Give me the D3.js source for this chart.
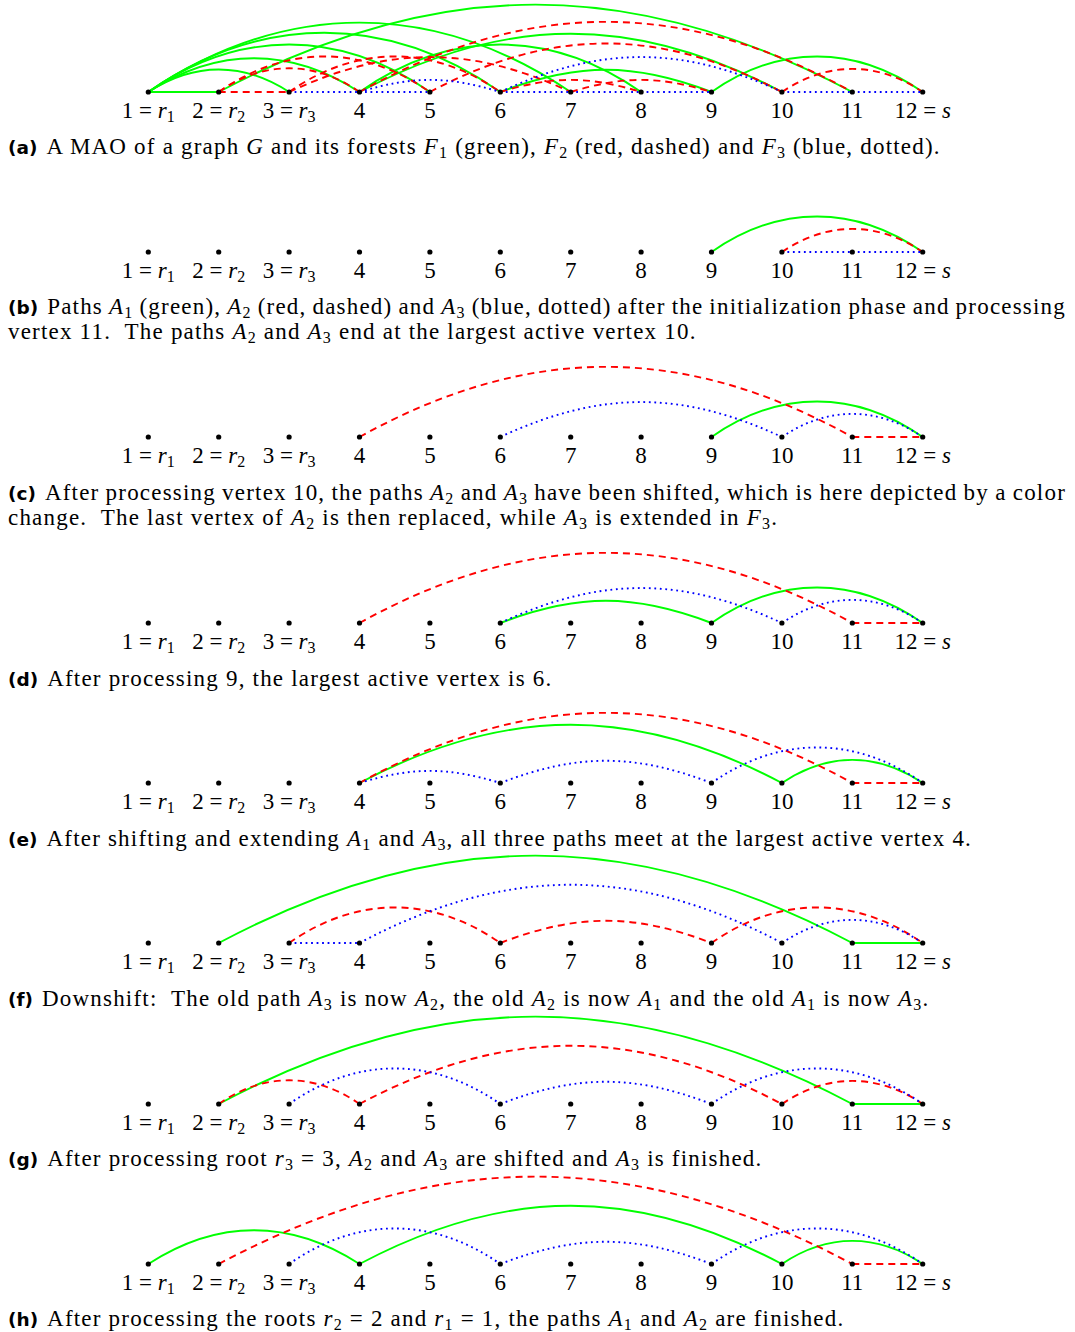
<!DOCTYPE html>
<html><head><meta charset="utf-8">
<script src="https://cdn.jsdelivr.net/npm/d3@7"></script>
<style>body{margin:0;background:#fff;}svg{display:block}text{white-space:pre}</style>
</head><body>
<script>
// ---------------- data ----------------
const vertices = [1,2,3,4,5,6,7,8,9,10,11,12];
const vertexLabels = ["1 = r_1","2 = r_2","3 = r_3","4","5","6","7","8","9","10","11","12 = s"];

// MAO forests of panel (a), edges [u, v]
const forestF1 = [[1,2],[1,3],[1,4],[1,5],[1,6],[1,7],[4,8],[6,9],[4,10],[2,11],[9,12]];
const forestF2 = [[2,3],[2,4],[2,5],[3,6],[3,7],[6,8],[7,9],[5,10],[4,11],[10,12]];
const forestF3 = [[3,4],[4,5],[4,6],[6,7],[7,8],[8,9],[6,10],[10,11],[11,12]];

// Paths [A1, A2, A3] as vertex sequences, panels (b)-(h)
const pathsB = [[9,12],[10,12],[10,11,12]];
const pathsC = [[9,12],[4,11,12],[6,10,12]];
const pathsD = [[6,9,12],[4,11,12],[6,10,12]];
const pathsE = [[4,10,12],[4,11,12],[4,6,9,12]];
const pathsF = [[2,11,12],[3,6,9,12],[3,4,10,12]];
const pathsG = [[2,11,12],[2,4,10,12],[3,6,9,12]];
const pathsH = [[1,4,10,12],[2,11,12],[3,6,9,12]];

const panelTags = ["(a)","(b)","(c)","(d)","(e)","(f)","(g)","(h)"];
const captionLines = [
  ["A MAO of a graph $G$ and its forests $F_1$ (green), $F_2$ (red, dashed) and $F_3$ (blue, dotted)."],
  ["Paths $A_1$ (green), $A_2$ (red, dashed) and $A_3$ (blue, dotted) after the initialization phase and processing",
   "vertex 11.  The paths $A_2$ and $A_3$ end at the largest active vertex 10."],
  ["After processing vertex 10, the paths $A_2$ and $A_3$ have been shifted, which is here depicted by a color",
   "change.  The last vertex of $A_2$ is then replaced, while $A_3$ is extended in $F_3$."],
  ["After processing 9, the largest active vertex is 6."],
  ["After shifting and extending $A_1$ and $A_3$, all three paths meet at the largest active vertex 4."],
  ["Downshift:  The old path $A_3$ is now $A_2$, the old $A_2$ is now $A_1$ and the old $A_1$ is now $A_3$."],
  ["After processing root $r_3 = 3$, $A_2$ and $A_3$ are shifted and $A_3$ is finished."],
  ["After processing the roots $r_2 = 2$ and $r_1 = 1$, the paths $A_1$ and $A_2$ are finished."]
];

// ---------------- layout / style ----------------
const W = 1075, H = 1332;
const baselines = [92, 252, 437, 623, 783, 943, 1104, 1264];
const captionBaselines = [[154],[314,339],[500,525],[686],[846],[1006],[1166],[1326]];
const x = d3.scaleLinear().domain([1,12]).range([148.3, 922.7]);
const serif = "'Liberation Serif', 'Times New Roman', serif";
const styles = [
  {stroke:"#00ff00", dash:null},
  {stroke:"#ff0000", dash:"7,5"},
  {stroke:"#0000ff", dash:"1.8,3.7"}
];
// TikZ-like bend angle (degrees) per arc
const arcBend = {"1-3":33,"1-4":33,"1-5":35,"1-6":35,"1-7":34,"4-8":35,"6-9":21,"4-10":28,"2-11":28,"9-12":35,
  "2-4":35,"2-5":35,"3-6":35,"3-7":25,"6-8":17,"7-9":17,"5-10":28,"4-11":29,"10-12":34,"4-6":17,"6-10":25};

const svg = d3.select("body").append("svg").attr("width",W).attr("height",H)
  .style("background","#fff");

function edgePath(u, v, y){
  const a = Math.min(u,v), b = Math.max(u,v);
  const x1 = x(a), x2 = x(b);
  const p = d3.path();
  p.moveTo(x1, y);
  if (b - a === 1) p.lineTo(x2, y);
  else {
    const L = x2 - x1, d = 0.3915 * L, t = (arcBend[a+"-"+b] || 34) * Math.PI / 180;
    p.bezierCurveTo(x1 + d*Math.cos(t), y - d*Math.sin(t), x2 - d*Math.cos(t), y - d*Math.sin(t), x2, y);
  }
  return p.toString();
}

function parseRich(str){
  const out = [];
  str.split("$").forEach((part, i) => {
    if (i % 2 === 0) { if (part) out.push({t:part}); return; }
    let j = 0;
    while (j < part.length){
      const c = part[j];
      if (c === " ") { j++; continue; }
      if (c === "=") { out.push({t:" = "}); j++; continue; }
      if (c === "_") { out.push({t:part[j+1], sub:true}); j += 2; continue; }
      if (/[A-Za-z]/.test(c)) { out.push({t:c, italic:true}); j++; continue; }
      let k = j; while (k < part.length && /[0-9]/.test(part[k])) k++;
      out.push({t:part.slice(j,k)}); j = k;
    }
  });
  return out;
}

function richText(sel, segs, subSize, subDy){
  let shifted = false;
  segs.forEach(s => {
    const ts = sel.append("tspan").text(s.t);
    if (s.italic) ts.attr("font-style","italic");
    if (s.sub) { ts.attr("font-size", subSize).attr("dy", shifted ? 0 : subDy); shifted = true; }
    else if (shifted) { ts.attr("dy", -subDy); shifted = false; }
  });
}

const panelsEdges = [
  [forestF1, forestF2, forestF3]
].concat([pathsB, pathsC, pathsD, pathsE, pathsF, pathsG, pathsH].map(paths =>
  paths.map(seq => d3.pairs(seq))
));

panelsEdges.forEach((edgeSets, i) => {
  const y = baselines[i];
  const g = svg.append("g");
  edgeSets.forEach((edges, k) => {
    g.selectAll(null).data(edges).join("path")
      .attr("d", e => edgePath(e[0], e[1], y))
      .attr("fill","none")
      .attr("stroke", styles[k].stroke)
      .attr("stroke-width", 1.9)
      .attr("stroke-dasharray", styles[k].dash);
  });
  g.selectAll(null).data(vertices).join("circle")
    .attr("cx", d => x(d)).attr("cy", y).attr("r", 2.6).attr("fill","#000");
  vertices.forEach((v, vi) => {
    const t = g.append("text").attr("x", x(v)).attr("y", y + 26)
      .attr("text-anchor","middle").attr("font-family", serif)
      .attr("font-size", 23).attr("fill","#000");
    richText(t, parseRich("$" + vertexLabels[vi] + "$"), 16, 4);
  });

  // caption
  captionLines[i].forEach((line, j) => {
    const cy = captionBaselines[i][j];
    let tx = 8;
    if (j === 0) {
      const tag = svg.append("text").attr("x", 8).attr("y", cy)
        .attr("font-family","DejaVu Sans").attr("font-weight","bold")
        .attr("font-size", 18.5).attr("fill","#000").text(panelTags[i]);
      tx = 8 + tag.node().getComputedTextLength() + 9;
    }
    const t = svg.append("text").attr("x", tx).attr("y", cy)
      .attr("font-family", serif).attr("font-size", 23)
      .attr("letter-spacing", 1.2).attr("fill","#000");
    richText(t, parseRich(line), 16, 3.5);
    if (j < captionLines[i].length - 1) {
      const natural = t.node().getComputedTextLength();
      const nSpaces = (t.text().match(/ /g) || []).length;
      t.attr("word-spacing", (1066 - tx - natural) / nSpaces);
    }
  });
});
</script>
</body></html>
